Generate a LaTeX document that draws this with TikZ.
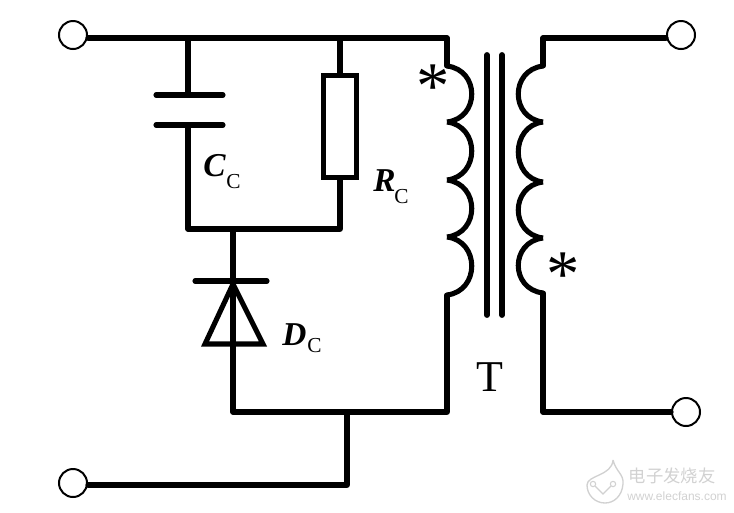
\documentclass[tikz,border=0pt]{standalone}
\usepackage{fontspec}
\setmainfont{Liberation Serif}
\newfontfamily\cjk{Noto Sans CJK SC}
\newfontfamily\markfont{Liberation Sans}
\usetikzlibrary{arrows,positioning,calc}
\definecolor{markgray}{gray}{0.82}
\tikzset{
  wire/.style={line width=3.8pt,line join=round,line cap=round},
  terminal/.style={circle,draw,line width=1.5pt,minimum size=21pt,inner sep=0pt,fill=white},
  corebar/.style={line width=4.4pt,line cap=round},
  plate/.style={line width=3.8pt,line cap=round},
  reslabel/.style={font=\fontsize{25}{25}\selectfont\itshape\bfseries,inner sep=0pt,anchor=base west},
  subscr/.style={font=\fontsize{16}{16}\selectfont,inner sep=0pt,anchor=base west},
  starmark/.style={font=\fontsize{50}{50}\selectfont,inner sep=0pt,anchor=base},
  markline/.style={draw=markgray,line width=1pt}
}
\begin{document}
\begin{tikzpicture}[x=0.75pt,y=-0.75pt]
   \useasboundingbox (0,0) rectangle (734,512);
   % terminals
   \node[terminal] (t1) at (73,35) {};
   \node[terminal] (t2) at (681,35) {};
   \node[terminal] (t3) at (686,412) {};
   \node[terminal] (t4) at (73,483) {};
   % junctions
   \coordinate (capt) at (188,38);
   \coordinate (rest) at (340,38);
   \coordinate (lt) at (447,38);
   \coordinate (rt) at (543,38);
   \coordinate (capa) at (188,95);
   \coordinate (capb) at (188,125);
   \coordinate (capj) at (188,229);
   \coordinate (diot) at (233,229);
   \coordinate (resj) at (340,229);
   \coordinate (diob) at (233,412);
   \coordinate (gnd) at (347,412);
   \coordinate (lb) at (447,412);
   \coordinate (rb) at (543,412);
   \coordinate (gndb) at (347,485);
   \node[draw,line width=3.8pt,minimum width=25pt,minimum height=77pt,inner sep=0pt] (rc) at (340,126.5) {};
   % wires
   \draw[wire] (t1.east |- capt) -- (capt) -- (rest) -- (lt) -- (447,66);
   \draw[wire] (t2.west |- rt) -- (rt) -- (543,66);
   \draw[wire] (capt) -- (capa);
   \draw[wire] (capb) -- (capj) -- (diot) -- (resj) -- (rc.south);
   \draw[wire] (rest) -- (rc.north);
   \draw[wire] (diot) -- (diob) -- (gnd) -- (lb) -- (447,295);
   \draw[wire] (t3) -- (rb) -- (543,293);
   \draw[wire] (gnd) -- (gndb) -- (t4.east |- gndb);
   % capacitor
   \draw[plate] (156,95) -- (223,95);
   \draw[plate] (156,125) -- (223,125);
   % diode
   \draw[plate] (195,281) -- (267,281);
   \draw[wire,line join=miter] (233,284) -- (263,344) -- (205,344) -- cycle;
   % coils
   \foreach \ya/\yb in {66/122,122/180,180/237,237/295}
     \draw[line width=3.8pt] (447,\ya) .. controls (480,\ya+4) and (480,\yb-4) .. (447,\yb);
   \foreach \ya/\yb in {66/122,122/182,182/238,238/293}
     \draw[line width=3.8pt] (543,\ya) .. controls (510,\ya+4) and (510,\yb-4) .. (543,\yb);
   % core
   \draw[corebar] (487,55) -- (487,315);
   \draw[corebar] (502,55) -- (502,315);
   % labels
   \node[reslabel] (cclab) at (203,176) {C};
   \node[subscr] (ccsub) at (226,188) {C};
   \node[reslabel] (rclab) at (373,191) {R};
   \node[subscr] (rcsub) at (394,203) {C};
   \node[reslabel] (dclab) at (282,345) {D};
   \node[subscr] (dcsub) at (307,352) {C};
   \node[font=\fontsize{33}{33}\selectfont,inner sep=0pt] (tlab) at (490,377) {T};
   \node[starmark] (star1) at (433,108) {*};
   \node[starmark] (star2) at (563,296) {*};
   % watermark
   \draw[markline] (613,460) .. controls (616,472) and (624,474) .. (623,484)
     .. controls (622,496) and (614,503) .. (605,503)
     .. controls (595,503) and (587,495) .. (587,485)
     .. controls (587,475) and (612,476) .. (613,460);
   \draw[markline] (595,486) -- (603,494) -- (611,486);
   \node[draw=markgray,circle,line width=0.8pt,minimum size=4pt,inner sep=0pt] (marklogoa) at (593,484) {};
   \node[draw=markgray,circle,line width=0.8pt,minimum size=4pt,inner sep=0pt] (marklogob) at (613,484) {};
   \node[font=\cjk\fontsize{13}{13}\selectfont,text=markgray,inner sep=0pt] (marka) at (672,476) {电子发烧友};
   \node[font=\markfont\fontsize{9}{9}\selectfont,text=markgray,inner sep=0pt] (markb) at (677,496) {www.elecfans.com};
\end{tikzpicture}
\end{document}
